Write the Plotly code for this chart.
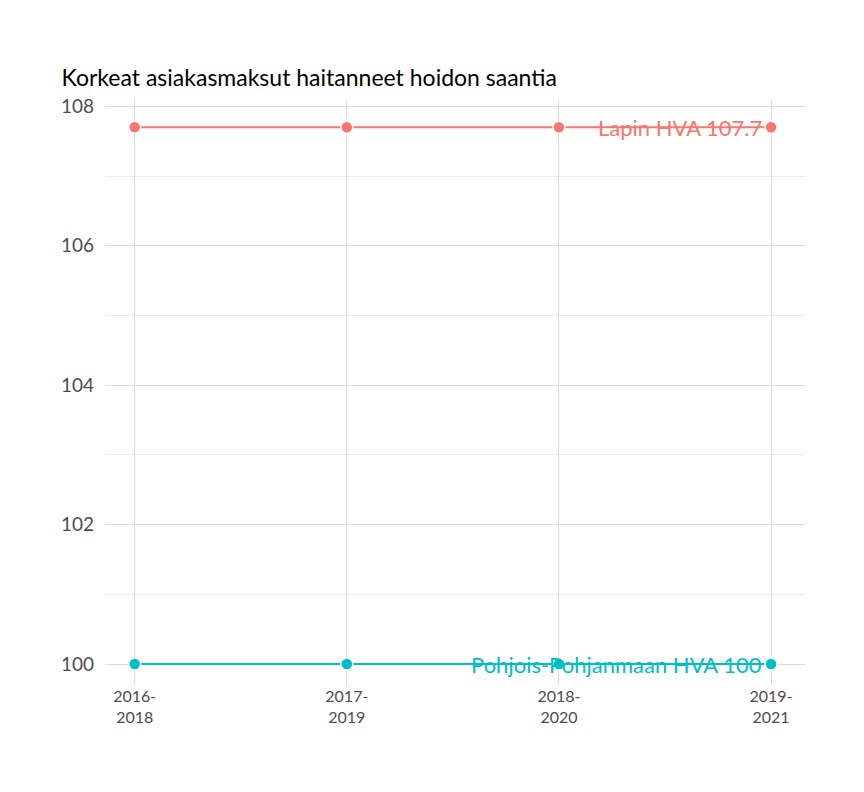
import plotly.graph_objects as go

periods = ["2016-<br>2018", "2017-<br>2019", "2018-<br>2020", "2019-<br>2021"]
lapin = [107.7, 107.7, 107.7, 107.7]
pohjois = [100, 100, 100, 100]
series = [("Lapin HVA", lapin, "#F8766D"), ("Pohjois-Pohjanmaan HVA", pohjois, "#00BFC4")]

fig = go.Figure()
for name, vals, col in series:
    fig.add_trace(go.Scatter(
        x=list(range(len(periods))), y=vals, mode="lines+markers", name=name,
        line=dict(color=col, width=2),
        marker=dict(size=12, color=col, line=dict(color="white", width=1.5)),
    ))
    fig.add_annotation(x=len(periods) - 1, y=vals[-1], text=f"{name} {vals[-1]:g}",
                       xanchor="right", xshift=-7, showarrow=False,
                       font=dict(size=22, color=col))

fig.update_layout(
    width=864, height=792, showlegend=False,
    plot_bgcolor="white", paper_bgcolor="white",
    font=dict(family="Lato", color="#4d4d4d"),
    title=dict(text="Korkeat asiakasmaksut haitanneet hoidon saantia", x=0.062, y=0.922,
               font=dict(size=23, color="black")),
    margin=dict(l=97, r=67, t=92, b=115),
)
fig.update_xaxes(tickvals=list(range(len(periods))), ticktext=periods, range=[-0.14, 3.16],
                 showgrid=True, gridcolor="#dcdcdc", zeroline=False, tickfont=dict(size=16))
fig.update_yaxes(range=[99.7, 108.09], tickvals=[100, 102, 104, 106, 108],
                 showgrid=True, gridcolor="#dcdcdc", zeroline=False, tickfont=dict(size=19),
                 ticklabelstandoff=10,
                 minor=dict(tickvals=[101, 103, 105, 107], showgrid=True, gridcolor="#ebebeb"))

fig.write_html("out.html")
